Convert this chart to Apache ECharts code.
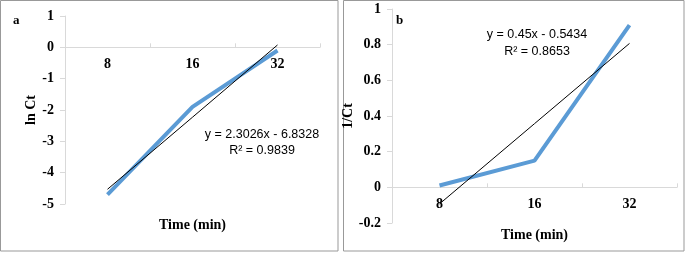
<!DOCTYPE html>
<html>
<head>
<meta charset="utf-8">
<script src="https://cdn.jsdelivr.net/npm/echarts@6/dist/echarts.min.js"></script>
<style>
  html, body { margin: 0; padding: 0; background: #fff; }
  #chart { width: 685px; height: 253px; }
</style>
</head>
<body>
<div id="chart"></div>
<script>
// shared x categories (time, min)
var categories = ['8', '16', '32'];

// panel a: ln Ct
var lnCt = [-4.7, -1.9, -0.1];
var lnCtTrend = [-4.53, -2.23, 0.075];
var lnCtEq = ['y = 2.3026x - 6.8328', 'R\u00b2 = 0.9839'];

// panel b: 1/Ct
var invCt = [0.01, 0.15, 0.91];
var invCtTrend = [-0.093, 0.357, 0.807];
var invCtEq = ['y = 0.45x - 0.5434', 'R\u00b2 = 0.8653'];

var serif = 'Liberation Serif';
var axisGray = '#d9d9d9';
var blue = '#5b9bd5';

// grid boxes, and the y value range of each panel
var gridA = { left: 65, top: 16, width: 255, height: 188 };
var gridB = { left: 392, top: 9, width: 285, height: 214 };
var rangeA = [-5, 1];
var rangeB = [-0.2, 1];

// pull the category axis up to the y = 0 line
function zeroOffset(g, r) {
	return -g.height * (0 - r[0]) / (r[1] - r[0]);
}

function xAxisCfg(gridIndex, offset, nameGap) {
	return {
		type: 'category',
		gridIndex: gridIndex,
		data: categories,
		boundaryGap: true,
		offset: offset,
		axisLine: { onZero: false, lineStyle: { color: axisGray } },
		axisTick: { show: true, inside: true, length: 4, interval: 0, lineStyle: { color: axisGray } },
		axisLabel: { color: '#000', fontFamily: serif, fontWeight: 'bold', fontSize: 14, margin: 10 },
		splitLine: { show: false },
		name: 'Time (min)',
		nameLocation: 'middle',
		nameGap: nameGap,
		nameTextStyle: { color: '#000', fontFamily: serif, fontWeight: 'bold', fontSize: 14 }
	};
}

function yAxisCfg(gridIndex, r, interval, name, nameGap, fmt) {
	return {
		type: 'value',
		gridIndex: gridIndex,
		min: r[0],
		max: r[1],
		interval: interval,
		axisLine: { show: true, onZero: false, lineStyle: { color: axisGray } },
		axisTick: { show: true, length: 5, lineStyle: { color: axisGray } },
		axisLabel: { color: '#000', fontFamily: serif, fontWeight: 'bold', fontSize: 14, margin: 11, formatter: fmt },
		splitLine: { show: false },
		name: name,
		nameLocation: 'middle',
		nameGap: nameGap,
		nameTextStyle: { color: '#000', fontFamily: serif, fontWeight: 'bold', fontSize: 14 }
	};
}

var eqStyle = { fontFamily: 'Liberation Sans', fontSize: 12.5, fill: '#000', textAlign: 'center', textVerticalAlign: 'middle' };

var option = {
	animation: false,
	backgroundColor: '#fff',
	grid: [
		Object.assign({ outerBoundsMode: 'none', containLabel: false }, gridA),
		Object.assign({ outerBoundsMode: 'none', containLabel: false }, gridB)
	],
	xAxis: [
		xAxisCfg(0, zeroOffset(gridA, rangeA), 171),
		xAxisCfg(1, zeroOffset(gridB, rangeB), 41)
	],
	yAxis: [
		yAxisCfg(0, rangeA, 1, 'ln Ct', 27, null),
		yAxisCfg(1, rangeB, 0.2, '1/Ct', 32, function (v) { return String(+v.toFixed(1)); })
	],
	series: [
		{ type: 'line', xAxisIndex: 0, yAxisIndex: 0, data: lnCt, symbol: 'none',
		  lineStyle: { color: blue, width: 4 }, z: 2 },
		{ type: 'line', xAxisIndex: 0, yAxisIndex: 0, data: lnCtTrend, symbol: 'none',
		  lineStyle: { color: '#000', width: 1 }, z: 3 },
		{ type: 'line', xAxisIndex: 1, yAxisIndex: 1, data: invCt, symbol: 'none',
		  lineStyle: { color: blue, width: 4 }, z: 2 },
		{ type: 'line', xAxisIndex: 1, yAxisIndex: 1, data: invCtTrend, symbol: 'none',
		  lineStyle: { color: '#000', width: 1 }, z: 3 }
	],
	graphic: [
		// panel frames
		{ type: 'rect', shape: { x: 0.5, y: 0.5, width: 337.5, height: 250.5 }, style: { fill: 'none', stroke: '#999', lineWidth: 1 }, silent: true },
		{ type: 'rect', shape: { x: 343.5, y: 0.5, width: 340.5, height: 250.5 }, style: { fill: 'none', stroke: '#999', lineWidth: 1 }, silent: true },
		// panel letters
		{ type: 'text', left: 13, top: 14, style: { text: 'a', fontFamily: serif, fontWeight: 'bold', fontSize: 13, fill: '#000' } },
		{ type: 'text', left: 396, top: 14, style: { text: 'b', fontFamily: serif, fontWeight: 'bold', fontSize: 13, fill: '#000' } },
		// trendline equations
		{ type: 'text', x: 262, y: 135, style: Object.assign({ text: lnCtEq[0] }, eqStyle) },
		{ type: 'text', x: 262, y: 151, style: Object.assign({ text: lnCtEq[1] }, eqStyle) },
		{ type: 'text', x: 537, y: 35, style: Object.assign({ text: invCtEq[0] }, eqStyle) },
		{ type: 'text', x: 537, y: 52, style: Object.assign({ text: invCtEq[1] }, eqStyle) }
	]
};

var myChart = echarts.init(document.getElementById('chart'));
myChart.setOption(option);
</script>
</body>
</html>
